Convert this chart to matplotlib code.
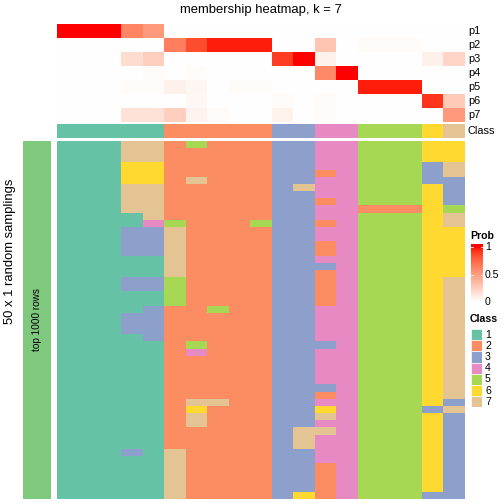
import numpy as np
import matplotlib
matplotlib.use("Agg")
import matplotlib.pyplot as plt
from matplotlib.colors import ListedColormap
from matplotlib.patches import Rectangle

plt.rcParams['font.family'] = ['Liberation Sans', 'DejaVu Sans']

# ---------------- data ----------------
class_labels = ["1", "2", "3", "4", "5", "6", "7"]
class_colors = ["#66C2A5", "#FC8D62", "#8DA0CB", "#E78AC3", "#A6D854", "#FFD92F", "#E5C494"]
membership_names = ["p1", "p2", "p3", "p4", "p5", "p6", "p7"]

# consensus class of each of the 19 columns
column_class = [1, 1, 1, 1, 1, 2, 2, 2, 2, 2, 3, 3, 4, 4, 5, 5, 5, 6, 7]

# membership probabilities (rows p1..p7, 19 columns)
p1 = [1, 1, 1, .62, .52, 0, 0, 0, 0, 0, 0, 0, 0, 0, 0, 0, 0, 0, 0]
p2 = [0, 0, 0, 0, 0, .65, .85, .97, .97, .97, 0, 0, .30, 0, .02, .02, .02, 0, 0]
p3 = [0, 0, 0, .18, .25, 0, 0, 0, 0, 0, .90, 1, .08, 0, 0, 0, 0, .08, .22]
p4 = [0, 0, 0, 0, .02, 0, .02, 0, 0, 0, 0, 0, .60, 1, 0, 0, 0, 0, 0]
p5 = [0, 0, 0, .02, .02, .08, .05, 0, .02, .02, 0, 0, 0, 0, .97, .97, .97, 0, 0]
p6 = [0, 0, 0, 0, 0, 0, .04, 0, 0, 0, .02, 0, .02, 0, 0, 0, 0, .92, .27]
p7 = [0, 0, 0, .15, .15, .25, .06, .02, 0, 0, .07, 0, .02, 0, 0, 0, 0, 0, .52]

# 50 random samplings x 19 columns, class per cell
samplings = [
    "1117725222334455566",
    "1117722222334455566",
    "1117722222334455566",
    "1116622222334455537",
    "1116622222332455537",
    "1116627222334455533",
    "1117722222374455563",
    "1117722222334455563",
    "1117722222332455563",
    "1117722222334422265",
    "1111722222334455567",
    "1111452225332455567",
    "1113372222334455566",
    "1113372222334455566",
    "1113372222332455566",
    "1113372222332455566",
    "1111172222334455566",
    "1111172222333455566",
    "1111172222332455566",
    "1113352222332455567",
    "1113352222332455567",
    "1111152222332455567",
    "1111152222332455567",
    "1111322522334455567",
    "1113322222334455567",
    "1113322222334455567",
    "1113322222334455567",
    "1111322222334455567",
    "1111125222333455567",
    "1111124222334455567",
    "1111122222334455567",
    "1111122222334455567",
    "1111122222334455567",
    "1111122222334455567",
    "1111122222333455567",
    "1111122222332455567",
    "1111127722334455563",
    "1111126222336455537",
    "1111127222337455563",
    "1111127222334455563",
    "1111122222377455563",
    "1111122222374455563",
    "1111122222374455563",
    "1113172222334455563",
    "1111172222334455563",
    "1111172222332455563",
    "1111172222332455563",
    "1111172222332455563",
    "1111172222332455563",
    "1111172222362455533",
]

prob_ticks = [0, 0.5, 1]

# ---------------- colour helpers (LAB ramp white -> red) ----------------
def _lin(c):
    c = np.asarray(c, float)
    return np.where(c <= 0.04045, c / 12.92, ((c + 0.055) / 1.055) ** 2.4)

def _gam(c):
    c = np.clip(c, 0, 1)
    return np.where(c <= 0.0031308, 12.92 * c, 1.055 * c ** (1 / 2.4) - 0.055)

M = np.array([[0.4124, 0.3576, 0.1805], [0.2126, 0.7152, 0.0722], [0.0193, 0.1192, 0.9505]])
Minv = np.linalg.inv(M)
WN = np.array([0.95047, 1.0, 1.08883])
d = 6 / 29

def _f(t):
    return np.where(t > d ** 3, np.cbrt(t), t / (3 * d * d) + 4 / 29)

def _finv(t):
    return np.where(t > d, t ** 3, 3 * d * d * (t - 4 / 29))

def rgb2lab(rgb):
    xyz = M @ _lin(rgb) / WN
    fx, fy, fz = _f(xyz)
    return np.array([116 * fy - 16, 500 * (fx - fy), 200 * (fy - fz)])

def lab2rgb(lab):
    L, a, b = lab
    fy = (L + 16) / 116
    xyz = np.array([_finv(fy + a / 500), _finv(fy), _finv(fy - b / 200)]) * WN
    return _gam(Minv @ xyz)

lw, lr = rgb2lab([1, 1, 1]), rgb2lab([1, 0, 0])
ramp = [lab2rgb(lw + (lr - lw) * t) for t in np.linspace(0, 1, 256)]
prob_cmap = ListedColormap(ramp)
class_cmap = ListedColormap(class_colors)

# ---------------- figure ----------------
W = H = 504
fig = plt.figure(figsize=(7, 7), dpi=72)

def ax_px(x0, y0, x1, y1):
    a = fig.add_axes([x0 / W, 1 - y1 / H, (x1 - x0) / W, (y1 - y0) / H])
    a.set_axis_off()
    return a

ncol = len(column_class)
X0, X1 = 57, 465

# membership heatmap
memb = np.array([p1, p2, p3, p4, p5, p6, p7])
ax_m = ax_px(X0, 24, X1, 122)
ax_m.imshow(memb, cmap=prob_cmap, vmin=0, vmax=1, aspect='auto', interpolation='nearest')

# class bar
ax_c = ax_px(X0, 124, X1, 138)
ax_c.imshow(np.array([column_class]) - 1, cmap=class_cmap, vmin=-0.5, vmax=6.5,
            aspect='auto', interpolation='nearest')

# main heatmap
mat = np.array([[int(ch) for ch in s] for s in samplings])
ax_h = ax_px(X0, 141, X1, 499)
ax_h.imshow(mat - 1, cmap=class_cmap, vmin=-0.5, vmax=6.5, aspect='auto', interpolation='nearest')

# row annotation block
ax_r = ax_px(23, 141, 51, 499)
ax_r.add_patch(Rectangle((0, 0), 1, 1, color="#7FC97F"))
ax_r.set_xlim(0, 1); ax_r.set_ylim(0, 1)
ax_r.text(0.5, 0.5, "top 1000 rows", rotation=90, ha='center', va='center', fontsize=10)

def ftxt(x, y, s, **kw):
    fig.text(x / W, 1 - y / H, s, **kw)

ftxt(261, 10, "membership heatmap, k = 7", ha='center', va='center', fontsize=13)
ftxt(10, 251, "50 x 1 random samplings", ha='center', va='center', rotation=90, fontsize=13)

for i, nm in enumerate(membership_names):
    ftxt(468, 24 + 14 * i + 7, nm, ha='left', va='center', fontsize=11)
ftxt(468, 131, "Class", ha='left', va='center', fontsize=11)

# Prob legend
ftxt(470, 236, "Prob", ha='left', va='center', fontsize=10.5, fontweight='bold')
cb_top, cb_bot = 244, 304
v_top, v_bot = 247, 302
ax_cb = ax_px(471, cb_top, 483, cb_bot)
vmax_e = 1 + (v_top - cb_top) / (v_bot - v_top)
vmin_e = -(cb_bot - v_bot) / (v_bot - v_top)
grad = np.linspace(vmax_e, vmin_e, 200).reshape(-1, 1)
ax_cb.imshow(grad, cmap=prob_cmap, vmin=0, vmax=1, aspect='auto', interpolation='bilinear',
             extent=[0, 1, vmin_e, vmax_e])
ax_cb.set_xlim(0, 1); ax_cb.set_ylim(vmin_e, vmax_e)
for t in prob_ticks:
    ax_cb.plot([0, 0.18], [t, t], color='white', lw=0.8)
    ax_cb.plot([0.82, 1], [t, t], color='white', lw=0.8)
    ypx = v_bot - (v_bot - v_top) * t
    ftxt(485, ypx, f"{t:g}", ha='left', va='center', fontsize=10.5)

# Class legend
ftxt(470, 319, "Class", ha='left', va='center', fontsize=10.5, fontweight='bold')
sq = 11.2
for i, (lab, col) in enumerate(zip(class_labels, class_colors)):
    y0 = 329 + i * sq
    a = ax_px(471, y0, 482, y0 + sq)
    a.add_patch(Rectangle((0, 0), 1, 1, facecolor=col, edgecolor='white', lw=0.6))
    a.set_xlim(0, 1); a.set_ylim(0, 1)
    ftxt(485, y0 + sq / 2, lab, ha='left', va='center', fontsize=10.5)

fig.savefig("out.png", dpi=72)
